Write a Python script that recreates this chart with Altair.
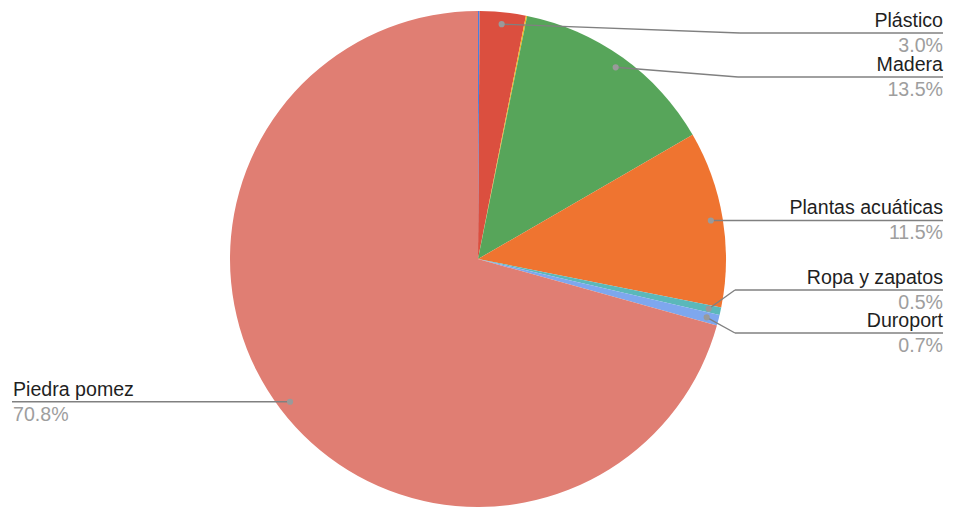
import math
import altair as alt
import pandas as pd

# ---- data ----
categories = ["Sin etiqueta A", "Plástico", "Sin etiqueta B", "Madera",
              "Plantas acuáticas", "Ropa y zapatos", "Duroport", "Piedra pomez"]
values = [0.1, 3.0, 0.08, 13.5, 11.5, 0.5, 0.7, 70.8]
pct_labels = ["", "3.0%", "", "13.5%", "11.5%", "0.5%", "0.7%", "70.8%"]
colors = ["#4A7FE0", "#DB4F3F", "#F2B51C", "#57A55A",
          "#EF7430", "#5BB8BA", "#7EA7EE", "#E07E73"]

# ---- layout (chart pixel space) ----
W, H = 940, 502
CX, CY = W / 2, H / 2
R = 248
DOT_R = 236
FONT = "Liberation Sans"
FS = 19.6
# labelled slices: name -> (side, line_y or None, elbow_x or None)
layout = {
    "Plástico": ("right", 25, 732),
    "Madera": ("right", 69, 730),
    "Plantas acuáticas": ("right", None, None),
    "Ropa y zapatos": ("right", 282, 727),
    "Duroport": ("right", 325, 727),
    "Piedra pomez": ("left", None, None),
}
RIGHT_END = 935
LEFT_END = 4

df = pd.DataFrame({"cat": categories, "value": values, "idx": list(range(len(values)))})

total = sum(values)
segs, dots, texts = [], [], []
cum = 0.0
for c, v, lab in zip(categories, values, pct_labels):
    mid = (cum + v / 2) / total * 2 * math.pi
    cum += v
    if c not in layout:
        continue
    side, ly, ex = layout[c]
    dx = CX + DOT_R * math.sin(mid)
    dy = CY - DOT_R * math.cos(mid)
    if ly is None:
        ly = dy
    if ex is None:
        ex = dx
    end = RIGHT_END if side == "right" else LEFT_END
    segs.append({"x": dx, "y": dy, "x2": ex, "y2": ly})
    segs.append({"x": ex, "y": ly, "x2": end, "y2": ly})
    dots.append({"x": dx, "y": dy})
    texts.append({"x": end + (0 if side == "right" else 1), "y": ly - 6, "t": c,
                  "kind": "name", "side": side})
    texts.append({"x": end + (0 if side == "right" else 1), "y": ly + 19, "t": lab,
                  "kind": "pct", "side": side})

seg_df = pd.DataFrame(segs)
dot_df = pd.DataFrame(dots)
txt_df = pd.DataFrame(texts)

xs = alt.Scale(domain=[0, W], range=[0, W], nice=False, zero=False)
ys = alt.Scale(domain=[0, H], range=[0, H], nice=False, zero=False)

pie = alt.Chart(df).mark_arc(outerRadius=R, strokeWidth=0).encode(
    theta=alt.Theta("value:Q", stack=True),
    color=alt.Color("cat:N", scale=alt.Scale(domain=categories, range=colors), legend=None),
    order=alt.Order("idx:Q"),
)

lines = alt.Chart(seg_df).mark_rule(color="#808080", strokeWidth=1.4).encode(
    x=alt.X("x:Q", scale=xs, axis=None),
    y=alt.Y("y:Q", scale=ys, axis=None),
    x2="x2:Q",
    y2="y2:Q",
)

pts = alt.Chart(dot_df).mark_circle(size=38, color="#9a9a9a", opacity=1).encode(
    x=alt.X("x:Q", scale=xs, axis=None),
    y=alt.Y("y:Q", scale=ys, axis=None),
)


def text_layer(side, kind, color):
    d = txt_df[(txt_df.side == side) & (txt_df.kind == kind)]
    return alt.Chart(d).mark_text(
        align="right" if side == "right" else "left",
        baseline="alphabetic", font=FONT, fontSize=FS, color=color,
    ).encode(
        x=alt.X("x:Q", scale=xs, axis=None),
        y=alt.Y("y:Q", scale=ys, axis=None),
        text="t:N",
    )


chart = alt.layer(
    pie, lines, pts,
    text_layer("right", "name", "#1f1f1f"),
    text_layer("right", "pct", "#9e9e9e"),
    text_layer("left", "name", "#1f1f1f"),
    text_layer("left", "pct", "#9e9e9e"),
).properties(
    width=W, height=H, autosize=alt.AutoSizeParams(type="none"), padding=0,
).configure(background="white", view=alt.ViewConfig(stroke=None))

chart.save("out.html", embed_options={"renderer": "svg", "actions": False})
